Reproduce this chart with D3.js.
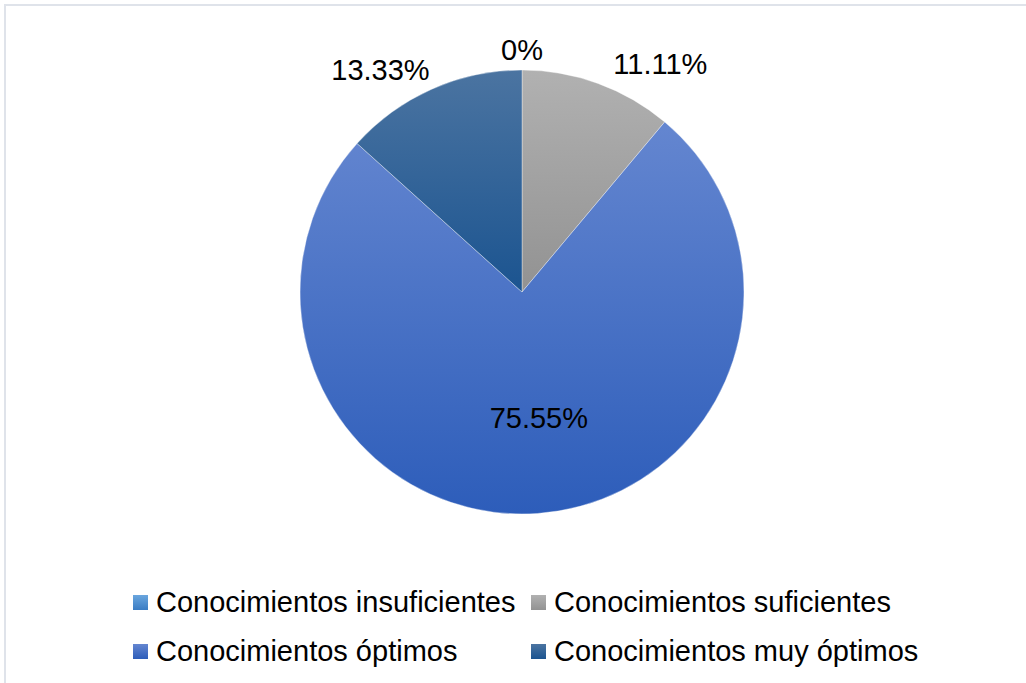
<!DOCTYPE html>
<html>
<head>
<meta charset="utf-8">
<script src="https://cdn.jsdelivr.net/npm/d3@7"></script>
<style>
  html, body { margin: 0; padding: 0; background: #ffffff; }
  svg { display: block; }
  text { font-family: "Liberation Sans", Arial, sans-serif; fill: #000; }
</style>
</head>
<body>
<svg id="chart" width="1026" height="683"></svg>
<script>
// Distribution of knowledge levels (percent)
const categories = [
  "Conocimientos insuficientes",
  "Conocimientos suficientes",
  "Conocimientos óptimos",
  "Conocimientos muy óptimos"
];
const values = [0, 11.11, 75.55, 13.33];
const valueLabels = ["0%", "11.11%", "75.55%", "13.33%"];
// gradient stops (top, bottom) per category
const colorTop = ["#6aa6de", "#b1b1b1", "#6486d0", "#4b74a1"];
const colorBottom = ["#3a7cc3", "#929292", "#2d5dba", "#1b5490"];

const W = 1026, H = 683;
const svg = d3.select("#chart");

// frame lines
svg.append("line").attr("x1", 4).attr("x2", W).attr("y1", 5).attr("y2", 5)
  .attr("stroke", "#dfe3ea").attr("stroke-width", 2);
svg.append("line").attr("x1", 5).attr("x2", 5).attr("y1", 4).attr("y2", H)
  .attr("stroke", "#dfe3ea").attr("stroke-width", 2);

const defs = svg.append("defs");
categories.forEach((c, i) => {
  const g = defs.append("linearGradient").attr("id", "grad" + i)
    .attr("x1", 0).attr("y1", 0).attr("x2", 0).attr("y2", 1);
  g.append("stop").attr("offset", "0%").attr("stop-color", colorTop[i]);
  g.append("stop").attr("offset", "100%").attr("stop-color", colorBottom[i]);
});

const cx = 522, cy = 292, R = 222;
const data = categories.map((c, i) => ({ name: c, value: values[i], label: valueLabels[i], i }));

const pie = d3.pie().value(d => d.value).sort(null);
const arcs = pie(data);
const arc = d3.arc().innerRadius(0).outerRadius(R);
const outerArc = d3.arc().innerRadius(R + 10).outerRadius(R + 10);
const innerArc = d3.arc().innerRadius(R * 0.57).outerRadius(R * 0.57);

const g = svg.append("g").attr("transform", `translate(${cx},${cy})`);

g.selectAll("path.slice").data(arcs.filter(a => a.data.value > 0)).join("path")
  .attr("class", "slice")
  .attr("d", arc)
  .attr("fill", d => `url(#grad${d.data.i})`)
  .attr("stroke", "rgba(255,255,255,0.45)")
  .attr("stroke-width", 0.8);

// value labels: large slice inside, small slices outside
const fontSize = 29;
arcs.forEach(a => {
  const share = (a.endAngle - a.startAngle) / (2 * Math.PI);
  let x, y, anchor = "middle", dx = 0;
  if (share > 0.5) {
    [x, y] = innerArc.centroid(a);
    dx = 8;
    y += 10;
  } else {
    [x, y] = outerArc.centroid(a);
    if (x > 5) { anchor = "start"; dx = 12; }
    else if (x < -5) { anchor = "end"; dx = 2; }
  }
  g.append("text")
    .attr("x", x + dx).attr("y", y)
    .attr("text-anchor", anchor)
    .attr("font-size", fontSize)
    .text(a.data.label);
});

// legend
const legendCols = [133, 531];
const legendRows = [612, 661];
const legend = svg.append("g");
data.forEach((d, i) => {
  const x = legendCols[i % 2], y = legendRows[Math.floor(i / 2)];
  legend.append("rect")
    .attr("x", x).attr("y", y - 17).attr("width", 15).attr("height", 15)
    .attr("fill", `url(#grad${i})`);
  legend.append("text")
    .attr("x", x + 23).attr("y", y)
    .attr("font-size", fontSize)
    .text(d.name);
});
</script>
</body>
</html>
